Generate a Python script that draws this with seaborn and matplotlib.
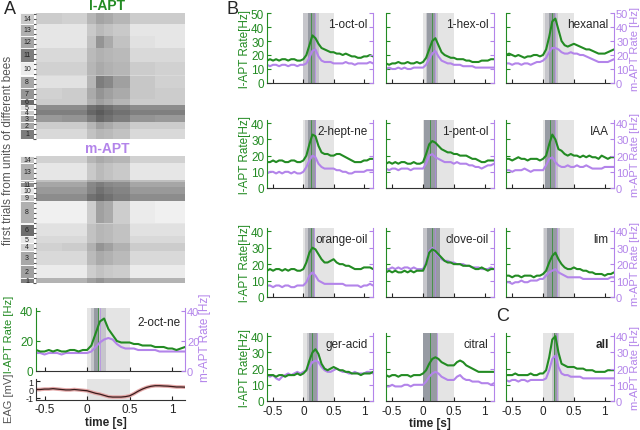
import numpy as np
import seaborn as sns
import matplotlib.pyplot as plt
from matplotlib.colors import LinearSegmentedColormap

GREEN = "#238b23"
PURPLE = "#b384ea"

# time axis of the PSTHs [s]
T = [-0.6, -0.55, -0.5, -0.45, -0.4, -0.35, -0.3, -0.25, -0.2, -0.15, -0.1, -0.05,
     0.0, 0.05, 0.1, 0.15, 0.2, 0.25, 0.3, 0.35, 0.4, 0.45, 0.5, 0.55,
     0.6, 0.65, 0.7, 0.75, 0.8, 0.85, 0.9, 0.95, 1.0, 1.05, 1.1, 1.15]

# panel A: 2-oct-ne rates and EAG
A_L = [14, 13, 13, 14, 13, 14, 13, 13, 14, 14, 13, 14,
       14, 17, 25, 33, 35, 28, 24, 20, 19, 19, 19, 18, 18, 17, 17, 17, 16, 16, 16, 15, 15, 14, 15, 16]
A_M = [12, 12, 11, 12, 12, 12, 11, 12, 12, 12, 12, 12,
       12, 13, 16, 19, 21, 22, 21, 18, 16, 15, 15, 15, 14, 14, 14, 14, 14, 13, 13, 13, 13, 13, 13, 13]
EAG = [0.0, 0.0, 0.05, 0.05, 0.1, 0.05, 0.0, -0.05, -0.05, 0.0, -0.05, -0.1,
       -0.15, -0.3, -0.45, -0.55, -0.7, -0.85, -0.9, -0.9, -0.9, -0.85, -0.75, -0.5,
       -0.2, 0.05, 0.25, 0.38, 0.45, 0.45, 0.42, 0.4, 0.35, 0.3, 0.3, 0.28]

# panel A rasters: trials per unit (unit 1..14) and spike density per time bin
BIN_EDGES = [-0.6, -0.3, 0.0, 0.1, 0.2, 0.3, 0.5, 0.8, 1.15]
L_COUNTS = [10, 7, 7, 5, 5, 6, 11, 12, 1, 13, 14, 12, 12, 11]
M_COUNTS = [5, 13, 14, 8, 7, 12, 1, 22, 7, 7, 5, 2, 17, 7]
L_DENS = [
    [0.15, 0.15, 0.15, 0.2, 0.18, 0.15, 0.15, 0.15],
    [0.2, 0.2, 0.2, 0.3, 0.25, 0.2, 0.2, 0.2],
    [0.4, 0.42, 0.45, 0.55, 0.5, 0.45, 0.42, 0.4],
    [0.5, 0.5, 0.55, 0.6, 0.55, 0.5, 0.5, 0.5],
    [0.45, 0.45, 0.5, 0.55, 0.5, 0.45, 0.45, 0.45],
    [0.2, 0.2, 0.22, 0.3, 0.25, 0.2, 0.2, 0.2],
    [0.18, 0.2, 0.25, 0.35, 0.3, 0.25, 0.22, 0.2],
    [0.12, 0.12, 0.2, 0.45, 0.4, 0.3, 0.22, 0.18],
    [0.15, 0.15, 0.15, 0.15, 0.15, 0.15, 0.15, 0.15],
    [0.18, 0.18, 0.2, 0.25, 0.22, 0.2, 0.2, 0.18],
    [0.15, 0.15, 0.18, 0.22, 0.2, 0.18, 0.15, 0.15],
    [0.1, 0.1, 0.15, 0.35, 0.25, 0.15, 0.12, 0.1],
    [0.1, 0.1, 0.12, 0.18, 0.15, 0.12, 0.1, 0.1],
    [0.2, 0.18, 0.2, 0.28, 0.25, 0.2, 0.2, 0.2],
]
M_DENS = [
    [0.3, 0.3, 0.3, 0.35, 0.3, 0.3, 0.3, 0.3],
    [0.08, 0.08, 0.1, 0.15, 0.12, 0.1, 0.08, 0.08],
    [0.15, 0.15, 0.18, 0.25, 0.22, 0.18, 0.15, 0.15],
    [0.18, 0.2, 0.22, 0.35, 0.3, 0.22, 0.2, 0.2],
    [0.15, 0.15, 0.15, 0.2, 0.18, 0.15, 0.15, 0.15],
    [0.12, 0.12, 0.15, 0.2, 0.18, 0.15, 0.12, 0.12],
    [0.1, 0.1, 0.1, 0.1, 0.1, 0.1, 0.1, 0.1],
    [0.06, 0.06, 0.1, 0.3, 0.25, 0.1, 0.08, 0.06],
    [0.45, 0.45, 0.5, 0.55, 0.5, 0.45, 0.45, 0.45],
    [0.4, 0.4, 0.42, 0.5, 0.45, 0.42, 0.4, 0.4],
    [0.35, 0.35, 0.4, 0.45, 0.4, 0.38, 0.35, 0.35],
    [0.25, 0.25, 0.25, 0.25, 0.25, 0.25, 0.25, 0.25],
    [0.1, 0.1, 0.12, 0.18, 0.15, 0.12, 0.1, 0.1],
    [0.18, 0.18, 0.2, 0.25, 0.22, 0.2, 0.18, 0.18],
]
L_SHADES = ["#7c7c7c", "#a8a8a8", "#a0a0a0", "#c8c8c8", "#e2e2e2", "#6e6e6e", "#969696",
            "#a8a8a8", "#c0c0c0", "#ececec", "#7e7e7e", "#a6a6a6", "#b0b0b0", "#c8c8c8"]
M_SHADES = ["#7e7e7e", "#a0a0a0", "#a8a8a8", "#d0d0d0", "#e8e8e8", "#6e6e6e", "#b0b0b0",
            "#b0b0b0", "#c4c4c4", "#e4e4e4", "#8e8e8e", "#b8b8b8", "#b0b0b0", "#c4c4c4"]

# panel B/C: odors and mean rates
ODORS = ["1-oct-ol", "1-hex-ol", "hexanal", "2-hept-ne", "1-pent-ol", "IAA",
         "orange-oil", "clove-oil", "lim", "ger-acid", "citral", "all"]
L_RATES = [
    [16, 17, 16, 17, 16, 17, 17, 16, 17, 17, 16, 16, 17, 20, 27, 34, 32, 28, 25, 24, 23, 22, 22, 21, 21, 20, 21, 20, 19, 19, 18, 18, 19, 19, 20, 19],
    [14, 13, 14, 14, 15, 14, 14, 15, 14, 14, 15, 14, 15, 18, 24, 30, 32, 27, 22, 20, 19, 18, 18, 17, 17, 17, 16, 16, 15, 15, 15, 16, 16, 16, 17, 17],
    [20, 21, 20, 19, 20, 19, 18, 19, 19, 20, 20, 19, 20, 24, 33, 44, 46, 38, 30, 27, 26, 27, 28, 27, 26, 25, 24, 24, 23, 22, 21, 21, 21, 22, 23, 24],
    [16, 16, 17, 16, 17, 17, 16, 16, 17, 17, 16, 16, 17, 20, 27, 33, 32, 26, 22, 21, 21, 20, 20, 21, 21, 20, 19, 18, 17, 16, 16, 16, 17, 17, 18, 18],
    [15, 16, 15, 16, 15, 16, 16, 15, 15, 16, 15, 15, 16, 21, 27, 29, 28, 26, 24, 23, 22, 22, 21, 21, 20, 20, 20, 19, 18, 18, 17, 16, 16, 17, 17, 17],
    [18, 18, 17, 18, 19, 18, 18, 17, 18, 18, 18, 17, 18, 20, 27, 33, 30, 24, 23, 21, 20, 21, 20, 20, 19, 20, 19, 20, 19, 19, 18, 20, 19, 18, 19, 19],
    [16, 17, 16, 17, 17, 16, 17, 16, 17, 17, 16, 16, 17, 21, 27, 30, 29, 26, 23, 21, 21, 22, 23, 21, 20, 20, 19, 19, 18, 17, 17, 17, 18, 18, 18, 17],
    [15, 16, 15, 16, 15, 15, 16, 15, 16, 15, 16, 16, 16, 20, 27, 29, 28, 26, 24, 22, 21, 21, 20, 20, 20, 19, 19, 19, 18, 17, 17, 18, 17, 16, 17, 17],
    [13, 13, 12, 13, 13, 12, 13, 13, 13, 12, 13, 13, 14, 16, 21, 25, 27, 23, 20, 18, 17, 17, 18, 17, 17, 16, 16, 15, 15, 14, 14, 14, 13, 14, 14, 15],
    [16, 16, 16, 15, 16, 16, 15, 16, 16, 16, 17, 16, 17, 19, 25, 30, 32, 29, 23, 20, 19, 20, 21, 20, 19, 19, 18, 18, 17, 17, 17, 16, 17, 17, 17, 18],
    [16, 15, 16, 16, 15, 16, 16, 16, 15, 16, 16, 16, 17, 19, 23, 26, 27, 26, 24, 23, 22, 22, 22, 24, 25, 24, 22, 21, 20, 19, 18, 18, 18, 18, 18, 18],
    [16, 16, 16, 17, 16, 16, 16, 16, 17, 16, 16, 17, 17, 19, 27, 38, 40, 30, 23, 22, 21, 21, 21, 20, 20, 20, 19, 19, 19, 18, 18, 18, 18, 19, 19, 19],
]
M_RATES = [
    [13, 12, 13, 13, 12, 13, 13, 12, 13, 13, 12, 13, 13, 14, 18, 23, 24, 19, 16, 15, 15, 15, 14, 14, 14, 14, 15, 14, 14, 13, 14, 14, 14, 14, 15, 14],
    [10, 11, 10, 10, 11, 10, 11, 10, 10, 11, 11, 11, 11, 13, 17, 21, 23, 19, 16, 15, 14, 14, 13, 13, 13, 12, 12, 12, 12, 11, 11, 11, 11, 11, 11, 11],
    [14, 14, 13, 14, 14, 13, 14, 14, 13, 14, 15, 15, 16, 18, 22, 25, 25, 24, 22, 21, 21, 22, 21, 21, 20, 20, 19, 18, 17, 16, 15, 15, 15, 15, 16, 17],
    [9, 10, 10, 9, 10, 9, 10, 10, 9, 10, 9, 9, 10, 13, 17, 20, 19, 15, 13, 12, 12, 12, 12, 11, 11, 10, 10, 9, 9, 10, 10, 10, 10, 11, 11, 11],
    [12, 11, 12, 12, 11, 12, 12, 12, 11, 12, 12, 12, 12, 15, 20, 21, 19, 18, 17, 16, 16, 16, 15, 16, 15, 15, 15, 14, 14, 13, 13, 12, 13, 14, 14, 15],
    [11, 11, 10, 11, 11, 11, 12, 11, 10, 11, 11, 11, 11, 14, 18, 19, 16, 14, 13, 13, 14, 13, 13, 14, 13, 13, 14, 13, 12, 12, 12, 12, 13, 13, 13, 13],
    [7, 7, 6, 7, 7, 6, 7, 7, 6, 6, 7, 7, 7, 9, 13, 15, 13, 10, 9, 8, 8, 8, 8, 8, 8, 8, 7, 7, 7, 7, 7, 6, 7, 7, 8, 7],
    [17, 17, 18, 17, 18, 17, 18, 18, 17, 18, 17, 17, 17, 21, 28, 30, 27, 25, 23, 22, 22, 21, 21, 20, 20, 20, 19, 19, 18, 18, 18, 17, 17, 17, 18, 17],
    [9, 9, 8, 9, 9, 10, 9, 9, 10, 10, 10, 11, 11, 13, 15, 16, 17, 15, 14, 13, 12, 12, 12, 12, 12, 11, 11, 11, 11, 11, 11, 11, 11, 11, 12, 12],
    [16, 15, 16, 14, 13, 15, 16, 17, 16, 17, 18, 17, 18, 19, 21, 24, 25, 24, 21, 19, 18, 18, 19, 20, 19, 18, 18, 17, 17, 18, 17, 17, 17, 18, 18, 17],
    [9, 9, 10, 9, 9, 9, 10, 10, 9, 10, 10, 10, 10, 12, 15, 17, 18, 17, 15, 14, 13, 13, 13, 15, 16, 14, 13, 13, 12, 12, 12, 11, 11, 11, 10, 11],
    [13, 12, 13, 13, 12, 13, 13, 12, 13, 13, 13, 13, 13, 14, 19, 26, 28, 21, 17, 16, 16, 15, 15, 15, 15, 14, 14, 14, 14, 14, 14, 14, 14, 14, 14, 14],
]
# response latency windows (grey bands) and onset markers
A_MID, A_DARK, A_GLINE, A_PLINE = (0.05, 0.22), (0.08, 0.14), 0.13, 0.15
MID_BANDS = [(0.0, 0.26), (0.05, 0.25), (0.03, 0.24), (0.02, 0.21), (0.02, 0.22), (0.03, 0.24),
             (0.02, 0.19), (0.0, 0.27), (0.02, 0.28), (0.06, 0.24), (0.0, 0.23), (0.15, 0.26)]
DARK_BANDS = [(0.08, 0.2), (0.07, 0.2), (0.1, 0.2), (0.07, 0.21), (0.02, 0.22), (0.03, 0.2),
              (0.08, 0.17), (0.07, 0.27), (0.07, 0.23), (0.1, 0.22), (0.0, 0.23), (0.17, 0.22)]
G_LINES = [0.12, 0.15, 0.15, 0.12, 0.12, 0.12, 0.12, 0.15, 0.15, 0.15, 0.12, 0.18]
P_LINES = [0.2, 0.2, 0.2, 0.2, 0.2, 0.2, 0.17, 0.2, 0.22, 0.22, 0.22, 0.22]

sns.set_style("white")
plt.rcParams["font.family"] = ["Liberation Sans", "DejaVu Sans"]

W, H = 640, 431
fig = plt.figure(figsize=(6.4, 4.31), dpi=100)


def box(x0, y0, x1, y1):
    return fig.add_axes([x0 / W, 1 - y1 / H, (x1 - x0) / W, (y1 - y0) / H])


def ftext(x, y, s, **kw):
    kw.setdefault("ha", "center")
    kw.setdefault("va", "center")
    fig.text(x / W, 1 - y / H, s, **kw)


def shade(ax, mid, dark, gline, pline):
    ax.axvspan(0, 0.5, color="#e4e4e4", lw=0, zorder=0)
    ax.axvspan(*mid, color="#c6c6cb", lw=0, zorder=0)
    ax.axvspan(*dark, color="#979ba3", lw=0, zorder=0)
    ax.axvline(gline, color=GREEN, lw=0.6, alpha=0.8, zorder=1)
    ax.axvline(pline, color=PURPLE, lw=0.6, alpha=0.8, zorder=1)


def rate_axes(ax, top, ticks, left_lab, right_lab, bottom_lab):
    ax.set_xlim(-0.6, 1.15)
    ax.set_ylim(0, top)
    ax.set_yticks(ticks)
    ax.set_xticks([-0.5, 0, 0.5, 1])
    ax.set_xticklabels(["-0.5", "0", "0.5", "1"] if bottom_lab else [])
    ax.set_xlabel("")
    ax.set_ylabel("")
    for s in ["top", "right"]:
        ax.spines[s].set_visible(False)
    ax.spines["left"].set_color(GREEN)
    ax.spines["bottom"].set_color("#333333")
    ax.tick_params(axis="y", colors=GREEN, direction="in", length=3, labelsize=8.5,
                   labelleft=left_lab, pad=2, left=True)
    ax.tick_params(axis="x", colors="#222222", direction="in", length=3, labelsize=8.5,
                   pad=3, bottom=True)
    ax2 = ax.twinx()
    ax2.set_ylim(0, top)
    ax2.set_yticks(ticks)
    for s in ["top", "left", "bottom"]:
        ax2.spines[s].set_visible(False)
    ax2.spines["right"].set_color(PURPLE)
    ax2.tick_params(axis="y", colors=PURPLE, direction="in", length=3, labelsize=8,
                    labelright=right_lab, pad=1.5, right=True)
    ax2.grid(False)


def raster(y0, y1, counts, dens, shades):
    ax = box(36, y0, 185, y1)
    edges = np.concatenate([[0], np.cumsum(counts)])
    ax.axvspan(0, 0.5, color="#e4e4e4", lw=0, zorder=0)
    cmap = LinearSegmentedColormap.from_list("ink", [(0, 0, 0, 0), (0, 0, 0, 1)])
    ax.pcolormesh(BIN_EDGES, edges, np.array(dens), cmap=cmap, vmin=0, vmax=1,
                  shading="flat", zorder=1)
    ax.set_xlim(-0.6, 1.15)
    ax.set_ylim(0, edges[-1])
    ax.set_xticks([])
    ax.set_yticks(np.arange(0, edges[-1], 5))
    ax.set_yticklabels([])
    ax.tick_params(axis="y", length=2, direction="out", left=True, color="#555555")
    for s in ax.spines.values():
        s.set_visible(False)

    nb = box(20, y0, 34, y1)
    centers = (edges[:-1] + edges[1:]) / 2
    nb.barh(centers, 1, height=counts, color=shades, edgecolor="white", linewidth=0.6)
    for i, (c, n) in enumerate(zip(centers, counts)):
        if n >= 3:
            nb.text(0.5, c, str(i + 1), ha="center", va="center", fontsize=5, color="#222222")
    nb.set_xlim(0, 1)
    nb.set_ylim(0, edges[-1])
    nb.axis("off")


# ---- panel A ----
raster(14, 140, L_COUNTS, L_DENS, L_SHADES)
raster(157, 284, M_COUNTS, M_DENS, M_SHADES)

ax = box(36, 309, 185, 372)
shade(ax, A_MID, A_DARK, A_GLINE, A_PLINE)
sns.lineplot(x=T, y=A_M, color=PURPLE, linewidth=1.5, ax=ax, zorder=2)
sns.lineplot(x=T, y=A_L, color=GREEN, linewidth=1.5, ax=ax, zorder=3)
rate_axes(ax, 42, [0, 20, 40], True, True, False)
ax.text(0.97, 0.78, "2-oct-ne", transform=ax.transAxes, ha="right", va="center", fontsize=8.5)

ax = box(36, 380, 185, 401)
ax.axvspan(0, 0.5, color="#e4e4e4", lw=0, zorder=0)
sns.lineplot(x=T, y=EAG, color="#e3a8a8", linewidth=2.6, ax=ax, zorder=2)
sns.lineplot(x=T, y=EAG, color="#3a1c1c", linewidth=0.9, ax=ax, zorder=3)
ax.set_xlim(-0.6, 1.15)
ax.set_ylim(-1.25, 1.25)
ax.set_yticks([-1, 0, 1])
ax.set_xticks([-0.5, 0, 0.5, 1])
ax.set_xticklabels(["-0.5", "0", "0.5", "1"])
ax.set_yticklabels(["-1", "0", "1"])
for s in ["top", "right"]:
    ax.spines[s].set_visible(False)
for s in ["left", "bottom"]:
    ax.spines[s].set_color("#333333")
ax.tick_params(direction="in", length=3, labelsize=8.5, pad=2, colors="#222222",
               left=True, bottom=True)
ax.tick_params(axis="y", labelsize=6.5)

ftext(4, 10, "A", fontsize=13, ha="left")
ftext(107, 6, "l-APT", color=GREEN, fontsize=10, fontweight="bold")
ftext(107, 149, "m-APT", color=PURPLE, fontsize=10, fontweight="bold")
ftext(8, 150, "first trials from units of different bees", rotation=90, fontsize=8.5,
      color="#555555")
ftext(9, 334, "l-APT Rate [Hz]", rotation=90, fontsize=8, color=GREEN)
ftext(9, 398, "EAG [mV]", rotation=90, fontsize=8, color="#555555")
ftext(205, 338, "m-APT Rate [Hz]", rotation=90, fontsize=8.5, color=PURPLE)
ftext(106, 423, "time [s]", fontsize=8.5, fontweight="bold")

# ---- panels B and C ----
ROWS = [(14, 84), (121, 189), (229, 298), (334, 402)]
COLS = [(267, 373), (386, 494), (506, 614)]
for k, odor in enumerate(ODORS):
    r, c = divmod(k, 3)
    y0, y1 = ROWS[r]
    x0, x1 = COLS[c]
    ax = box(x0, y0, x1, y1)
    shade(ax, MID_BANDS[k], DARK_BANDS[k], G_LINES[k], P_LINES[k])
    sns.lineplot(x=T, y=M_RATES[k], color=PURPLE, linewidth=1.5, ax=ax, zorder=2)
    sns.lineplot(x=T, y=L_RATES[k], color=GREEN, linewidth=1.5, ax=ax, zorder=3)
    if r == 0:
        rate_axes(ax, 50, [0, 10, 20, 30, 40, 50], c == 0, c == 2, False)
    else:
        rate_axes(ax, 42, [0, 10, 20, 30, 40], c == 0, c == 2, r == 3)
    ax.text(0.95, 0.84, odor, transform=ax.transAxes, ha="right", va="center", fontsize=8.5,
            fontweight="bold" if odor == "all" else "normal")
    yc = (y0 + y1) / 2
    if c == 0:
        ftext(245, yc, "l-APT Rate[Hz]", rotation=90, fontsize=8.5, color=GREEN)
    if c == 2:
        ftext(634.5, yc, "m-APT Rate [Hz]", rotation=90, fontsize=8, color=PURPLE)

ftext(232, 9, "B", fontsize=13)
ftext(503, 317, "C", fontsize=13)
ftext(430, 424, "time [s]", fontsize=8.5, fontweight="bold")

fig.savefig("out.png", dpi=100)
